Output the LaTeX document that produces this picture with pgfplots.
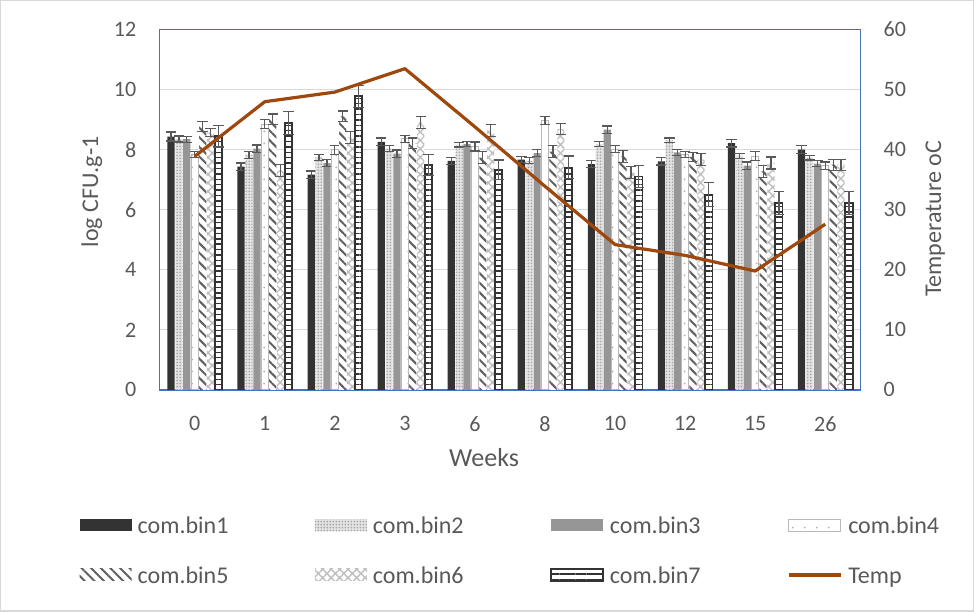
\documentclass[border=0pt]{standalone}
\usepackage{fontspec}
\setmainfont{Carlito}
\usepackage{pgfplots}
\pgfplotsset{compat=1.18}
\usetikzlibrary{patterns,patterns.meta}

\definecolor{txtgray}{HTML}{595959}
\definecolor{gridgray}{HTML}{D9D9D9}
\definecolor{frameblue}{HTML}{4472C4}
\definecolor{errgray}{HTML}{595959}
\definecolor{darkbar}{HTML}{333333}
\definecolor{midbar}{HTML}{969696}
\definecolor{tempbrown}{HTML}{9E480E}

% fixed-width legend text so that the columns are evenly spaced
\newcommand{\lgtext}[1]{\makebox[88.5pt][l]{#1\strut}}
\newcommand{\lglast}[1]{#1\strut}

\pgfplotsset{
  barbase/.style={
    legend image code/.code={\path[##1] (0pt,-3pt) rectangle (26pt,3pt);},
    error bars/y dir=both,
    error bars/y explicit,
    error bars/error bar style={draw=errgray, solid, line width=0.6pt},
    error bars/error mark options={draw=errgray, solid, rotate=90, mark size=2.6pt, line width=0.6pt},
  },
  lineleg/.style={
    legend image code/.code={\draw[##1] (0pt,0pt) -- (26pt,0pt);},
  },
  commonaxis/.style={
    scale only axis, width=350pt, height=180pt,
    xmin=-0.5, xmax=9.5,
    major tick length=0pt,
    /pgf/number format/assume math mode=true,
    tick label style={font=\fontsize{11}{13}\selectfont, text=txtgray, inner sep=0pt},
    label style={font=\fontsize{12}{14}\selectfont, text=txtgray},
  },
}

\begin{document}
\begin{tikzpicture}
\begin{axis}[
  commonaxis,
  name=main,
  ybar=0.35pt, bar width=3.6pt,
  ymin=0, ymax=12, ytick={0,2,...,12},
  xtick={0,...,9},
  xticklabels={0,1,2,3,6,8,10,12,15,26},
  yticklabel pos=left,
  yticklabel style={xshift=-11.5pt},
  xticklabel style={yshift=-13pt},
  ymajorgrids,
  grid style={draw=gridgray, line width=0.6pt},
  axis line style={draw=frameblue, line width=0.6pt},
  xlabel={Weeks},
  ylabel={log CFU.g-1},
  xlabel style={at={(axis description cs:0.463,-0.189)}, anchor=center, font=\fontsize{13}{15}\selectfont},
  ylabel style={at={(axis description cs:-0.097,0.55)}, anchor=center, rotate=0},
  legend columns=4,
  legend cell align=left,
  legend style={draw=none, fill=none, at={(0,0)}, anchor=north west,
    xshift=-40pt, yshift=-62pt, inner sep=0pt, outer sep=0pt,
    font=\fontsize{12}{14}\selectfont, text=txtgray,
    row sep=13.5pt, column sep=0pt, nodes={inner sep=0pt},
    /tikz/every odd column/.append style={column sep=3pt}},
]
% com.bin1
\addplot[barbase, fill=darkbar, draw=none] coordinates {
  (0,8.44) +- (0,0.15) (1,7.44) +- (0,0.12) (2,7.17) +- (0,0.12) (3,8.26) +- (0,0.13)
  (4,7.63) +- (0,0.12) (5,7.67) +- (0,0.10) (6,7.52) +- (0,0.12) (7,7.61) +- (0,0.12)
  (8,8.22) +- (0,0.13) (9,8.00) +- (0,0.13)};
\addlegendentry{\lgtext{com.bin1}}
% com.bin2
\addplot[barbase, fill=gray!22, draw=none,
  postaction={pattern color=gray!70, pattern={Dots[distance=1.5pt, radius=0.45pt]}}] coordinates {
  (0,8.36) +- (0,0.10) (1,7.83) +- (0,0.12) (2,7.75) +- (0,0.10) (3,8.04) +- (0,0.10)
  (4,8.17) +- (0,0.08) (5,7.63) +- (0,0.10) (6,8.19) +- (0,0.08) (7,8.31) +- (0,0.08)
  (8,7.80) +- (0,0.08) (9,7.74) +- (0,0.08)};
\addlegendentry{\lgtext{com.bin2}}
% com.bin3
\addplot[barbase, fill=midbar, draw=none] coordinates {
  (0,8.35) +- (0,0.10) (1,8.04) +- (0,0.12) (2,7.55) +- (0,0.12) (3,7.87) +- (0,0.12)
  (4,8.19) +- (0,0.08) (5,7.89) +- (0,0.12) (6,8.67) +- (0,0.12) (7,7.91) +- (0,0.10)
  (8,7.47) +- (0,0.12) (9,7.54) +- (0,0.10)};
\addlegendentry{\lgtext{com.bin3}}
% com.bin4
\addplot[barbase, fill=white, draw=gray!55, line width=0.5pt,
  postaction={pattern color=gray!60, pattern={Dots[distance=6pt, radius=0.5pt]}}] coordinates {
  (0,7.85) +- (0,0.10) (1,8.85) +- (0,0.15) (2,8.00) +- (0,0.15) (3,8.36) +- (0,0.12)
  (4,8.11) +- (0,0.15) (5,8.98) +- (0,0.13) (6,8.02) +- (0,0.12) (7,7.83) +- (0,0.10)
  (8,7.78) +- (0,0.15) (9,7.47) +- (0,0.12)};
\addlegendentry{\lglast{com.bin4}}
% com.bin5
\addplot[barbase, fill=white, draw=none,
  postaction={pattern color=gray!75!black, pattern={Lines[angle=-45, distance=3.4pt, line width=1pt]}}] coordinates {
  (0,8.77) +- (0,0.17) (1,9.02) +- (0,0.17) (2,9.11) +- (0,0.18) (3,8.22) +- (0,0.17)
  (4,7.74) +- (0,0.20) (5,7.94) +- (0,0.20) (6,7.78) +- (0,0.20) (7,7.76) +- (0,0.15)
  (8,7.28) +- (0,0.20) (9,7.50) +- (0,0.18)};
\addlegendentry{\lgtext{com.bin5}}
% com.bin6
\addplot[barbase, fill=white, draw=none,
  postaction={pattern color=gray!50, pattern={Hatch[angle=45, distance=3pt, line width=0.7pt]}}] coordinates {
  (0,8.57) +- (0,0.13) (1,7.31) +- (0,0.20) (2,8.41) +- (0,0.20) (3,8.91) +- (0,0.20)
  (4,8.64) +- (0,0.20) (5,8.69) +- (0,0.18) (6,7.24) +- (0,0.20) (7,7.67) +- (0,0.20)
  (8,7.56) +- (0,0.20) (9,7.50) +- (0,0.18)};
\addlegendentry{\lgtext{com.bin6}}
% com.bin7
\addplot[barbase, fill=white, draw=darkbar, line width=0.9pt,
  postaction={pattern color=darkbar, pattern={Lines[angle=0, distance=2.7pt, line width=0.75pt]}}] coordinates {
  (0,8.45) +- (0,0.36) (1,8.89) +- (0,0.37) (2,9.78) +- (0,0.37) (3,7.50) +- (0,0.35)
  (4,7.33) +- (0,0.33) (5,7.41) +- (0,0.38) (6,7.11) +- (0,0.36) (7,6.50) +- (0,0.40)
  (8,6.22) +- (0,0.38) (9,6.22) +- (0,0.38)};
\addlegendentry{\lgtext{com.bin7}}
\addlegendimage{lineleg, tempbrown, line width=1.6pt}
\addlegendentry{\lglast{Temp}}
\end{axis}

\begin{axis}[
  commonaxis,
  ymin=0, ymax=60, ytick={0,10,...,60},
  axis x line=none,
  axis y line*=right,
  y axis line style={draw=none},
  yticklabel style={xshift=11.5pt},
  ylabel={Temperature oC},
  ylabel style={at={(axis description cs:1.107,0.475)}, anchor=center, rotate=0},
]
\addplot[tempbrown, line width=1.6pt, line join=round] coordinates {
  (0,38.9) (1,48.0) (2,49.6) (3,53.5) (4,43.8) (5,33.9) (6,24.2) (7,22.4) (8,19.8) (9,27.6)};
\end{axis}

\draw[gridgray, line width=0.6pt] ([shift={(-79.5pt,-110.5pt)}]main.south west) rectangle ([shift={(56.5pt,14.5pt)}]main.north east);
\end{tikzpicture}
\end{document}
